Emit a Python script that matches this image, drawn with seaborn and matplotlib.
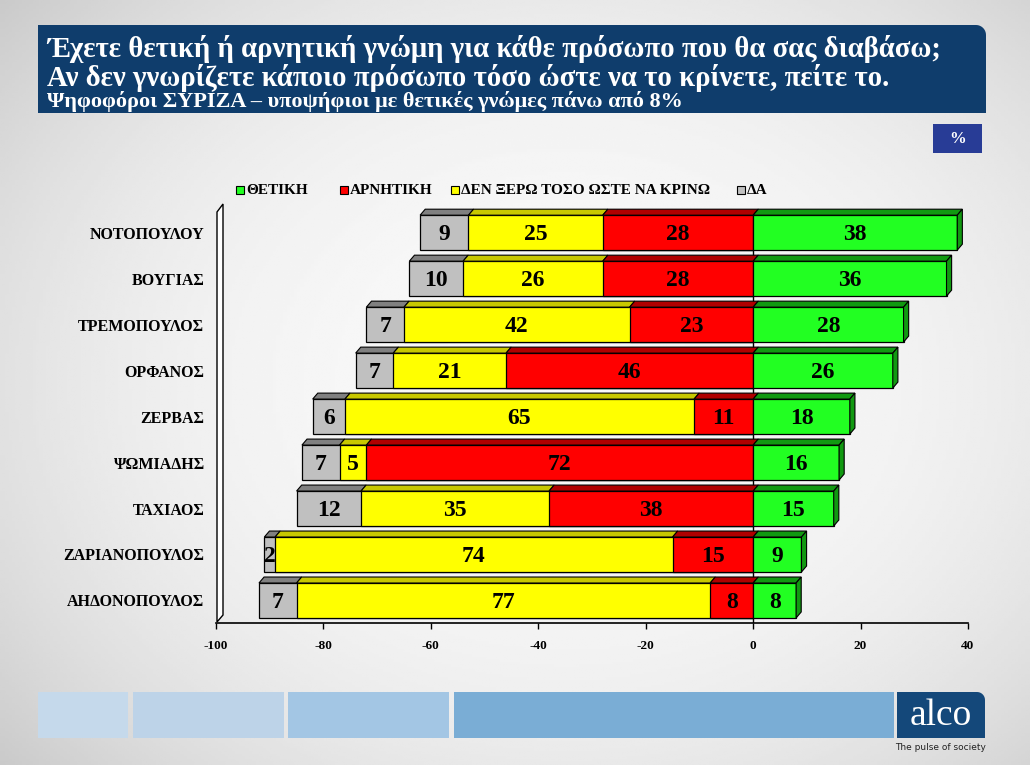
import numpy as np
import pandas as pd
import seaborn as sns
import matplotlib.pyplot as plt
from matplotlib.patches import Polygon, Rectangle

# data
names = ['ΝΟΤΟΠΟΥΛΟΥ', 'ΒΟΥΓΙΑΣ', 'ΤΡΕΜΟΠΟΥΛΟΣ', 'ΟΡΦΑΝΟΣ', 'ΖΕΡΒΑΣ',
         'ΨΩΜΙΑΔΗΣ', 'ΤΑΧΙΑΟΣ', 'ΖΑΡΙΑΝΟΠΟΥΛΟΣ', 'ΑΗΔΟΝΟΠΟΥΛΟΣ']
positive = [38, 36, 28, 26, 18, 16, 15, 9, 8]
negative = [28, 28, 23, 46, 11, 72, 38, 15, 8]
dont_know = [25, 26, 42, 21, 65, 5, 35, 74, 77]
no_answer = [9, 10, 7, 7, 6, 7, 12, 2, 7]

legend_labels = ['ΘΕΤΙΚΗ', 'ΑΡΝΗΤΙΚΗ', 'ΔΕΝ ΞΕΡΩ ΤΟΣΟ ΩΣΤΕ ΝΑ ΚΡΙΝΩ', 'ΔΑ']
x_ticks = [-100, -80, -60, -40, -20, 0, 20, 40]

title_lines = ['Έχετε θετική ή αρνητική γνώμη για κάθε πρόσωπο που θα σας διαβάσω;',
               'Αν δεν γνωρίζετε κάποιο πρόσωπο τόσο ώστε να το κρίνετε, πείτε το.']
subtitle = 'Ψηφοφόροι ΣΥΡΙΖΑ – υποψήφιοι με θετικές γνώμες πάνω από 8%'

# colours: front face / top face
GREEN, GREEN_TOP = '#22ff22', '#119911'
RED, RED_TOP = '#ff0000', '#b00000'
YELLOW, YELLOW_TOP = '#ffff00', '#c8c800'
GRAY, GRAY_TOP = '#c0c0c0', '#808080'
NAVY = '#0f3d6c'

sns.set_theme(style='white')
plt.rcParams['font.family'] = ['Liberation Serif', 'DejaVu Serif']
plt.rcParams['axes.unicode_minus'] = False
plt.rcParams['text.color'] = 'black'
plt.rcParams['xtick.color'] = 'black'
plt.rcParams['ytick.color'] = 'black'

W, H = 1030, 765
fig = plt.figure(figsize=(W / 100, H / 100), dpi=100)


def fx(x):
    return x / W


def fy(y):
    return 1 - y / H


# grey radial background
bg = fig.add_axes([0, 0, 1, 1], zorder=-10)
yy, xx = np.mgrid[0:1:300j, 0:1:300j]
r = np.sqrt(((xx - 0.55) / 0.7) ** 2 + ((yy - 0.5) / 0.75) ** 2)
bg.imshow(0.975 - 0.17 * r ** 2.5, cmap='gray', vmin=0, vmax=1,
          extent=[0, 1, 0, 1], aspect='auto')
bg.axis('off')


def round_box(x0, y0, x1, y1, rad, color):
    """box in pixel coords with the top-right corner rounded"""
    t = np.linspace(0, np.pi / 2, 12)
    arc = [(x1 - rad + rad * np.cos(a), y0 + rad - rad * np.sin(a)) for a in t]
    pts = [(x0, y1), (x1, y1)] + arc + [(x0, y0)]
    pts = [(fx(x), fy(y)) for x, y in pts]
    fig.patches.append(Polygon(pts, closed=True, transform=fig.transFigure,
                               facecolor=color, edgecolor='none'))


# title block
round_box(38, 25, 986, 113, 10, NAVY)
fig.text(fx(47), fy(57), title_lines[0], color='white', fontsize=20.7, fontweight='bold')
fig.text(fx(47), fy(86), title_lines[1], color='white', fontsize=20.7, fontweight='bold')
fig.text(fx(47), fy(107), subtitle, color='white', fontsize=16, fontweight='bold')

# % box
fig.patches.append(Rectangle((fx(933), fy(153)), fx(49), 29 / H, transform=fig.transFigure,
                             facecolor='#283c96', edgecolor='none'))
fig.text(fx(957.5), fy(139), '%', color='white', fontsize=12, fontweight='bold',
         ha='center', va='center')

# main chart
df = pd.DataFrame({'name': names, 'pos': positive, 'neg': negative,
                   'dk': dont_know, 'da': no_answer})
df['red_end'] = -df['neg']
df['yellow_end'] = -(df['neg'] + df['dk'])
df['gray_end'] = -(df['neg'] + df['dk'] + df['da'])

ax = fig.add_axes([fx(216), fy(623), (968 - 216) / W, (623 - 200) / H])
ax.set_facecolor('none')

half = 0.38
for col, color in [('gray_end', GRAY), ('yellow_end', YELLOW), ('red_end', RED), ('pos', GREEN)]:
    sns.barplot(data=df, x=col, y='name', order=names, orient='h', color=color,
                saturation=1, width=2 * half, edgecolor='black', linewidth=0.9,
                errorbar=None, ax=ax, zorder=2)

# 3d tops and side
dx, dy = 0.95, 0.13
for i, row in df.iterrows():
    segs = [(row['gray_end'], row['yellow_end'], GRAY_TOP),
            (row['yellow_end'], row['red_end'], YELLOW_TOP),
            (row['red_end'], 0, RED_TOP),
            (0, row['pos'], GREEN_TOP)]
    top = i - half
    for x0, x1, c in segs:
        ax.add_patch(Polygon([(x0, top), (x1, top), (x1 + dx, top - dy), (x0 + dx, top - dy)],
                             closed=True, facecolor=c, edgecolor='black', lw=0.8, zorder=3))
    p = row['pos']
    ax.add_patch(Polygon([(p, top), (p + dx, top - dy), (p + dx, i + half - dy), (p, i + half)],
                         closed=True, facecolor=GREEN_TOP, edgecolor='black', lw=0.8, zorder=3))

    # value labels
    for x0, x1, v in [(row['gray_end'], row['yellow_end'], row['da']),
                      (row['yellow_end'], row['red_end'], row['dk']),
                      (row['red_end'], 0, row['neg']),
                      (0, row['pos'], row['pos'])]:
        ax.text((x0 + x1) / 2, i + 0.04, str(v), ha='center', va='center',
                fontsize=17, fontweight='bold', color='black', zorder=5)

ax.axvline(0, ymax=0.97, color='black', lw=1, zorder=1)

ax.set_xlim(-100, 40)
ax.set_ylim(8.49, -0.71)
ax.set_xticks(x_ticks)
ax.set_xticklabels([str(v) for v in x_ticks], fontsize=9.5, fontweight='bold')
ax.tick_params(axis='x', direction='out', length=4, width=1, color='black', pad=8, bottom=True)
ax.tick_params(axis='y', length=0, pad=8.5)
for lab in ax.get_yticklabels():
    lab.set_fontsize(11.5)
    lab.set_fontweight('bold')
    lab.set_color('black')
ax.set_xlabel('')
ax.set_ylabel('')
for s in ['left', 'right', 'top']:
    ax.spines[s].set_visible(False)
ax.spines['bottom'].set_color('black')
ax.spines['bottom'].set_linewidth(1.2)

# back wall of the 3d plot
wall = [(217, 622), (217, 212), (223, 204), (223, 615), (217, 622)]
fig.patches.append(Polygon([(fx(x), fy(y)) for x, y in wall], closed=True,
                           transform=fig.transFigure, facecolor='white',
                           edgecolor='black', lw=1))

# legend
for x, c, lab in zip([236, 340, 451, 737], [GREEN, RED, YELLOW, GRAY], legend_labels):
    fig.patches.append(Rectangle((fx(x), fy(194)), 8 / W, 8 / H, transform=fig.transFigure,
                                 facecolor=c, edgecolor='black', lw=0.8))
    fig.text(fx(x + 10), fy(190), lab, fontsize=11, fontweight='bold', va='center',
             color='black')

# footer bars and logo
for x0, x1, c in [(38, 128, '#c5d9eb'), (133, 284, '#bdd3e8'),
                  (288, 449, '#a3c6e4'), (454, 894, '#7aadd5')]:
    fig.patches.append(Rectangle((fx(x0), fy(738)), (x1 - x0) / W, 46 / H,
                                 transform=fig.transFigure, facecolor=c, edgecolor='none'))
round_box(897, 692, 985, 738, 8, '#14487a')
fig.text(fx(941), fy(716), 'alco', color='white', fontsize=27, ha='center', va='center')
fig.text(fx(941), fy(748), 'The pulse of society', color='#222222', fontsize=6.5,
         ha='center', va='center', family='DejaVu Sans')

fig.savefig('out.png', dpi=100)
